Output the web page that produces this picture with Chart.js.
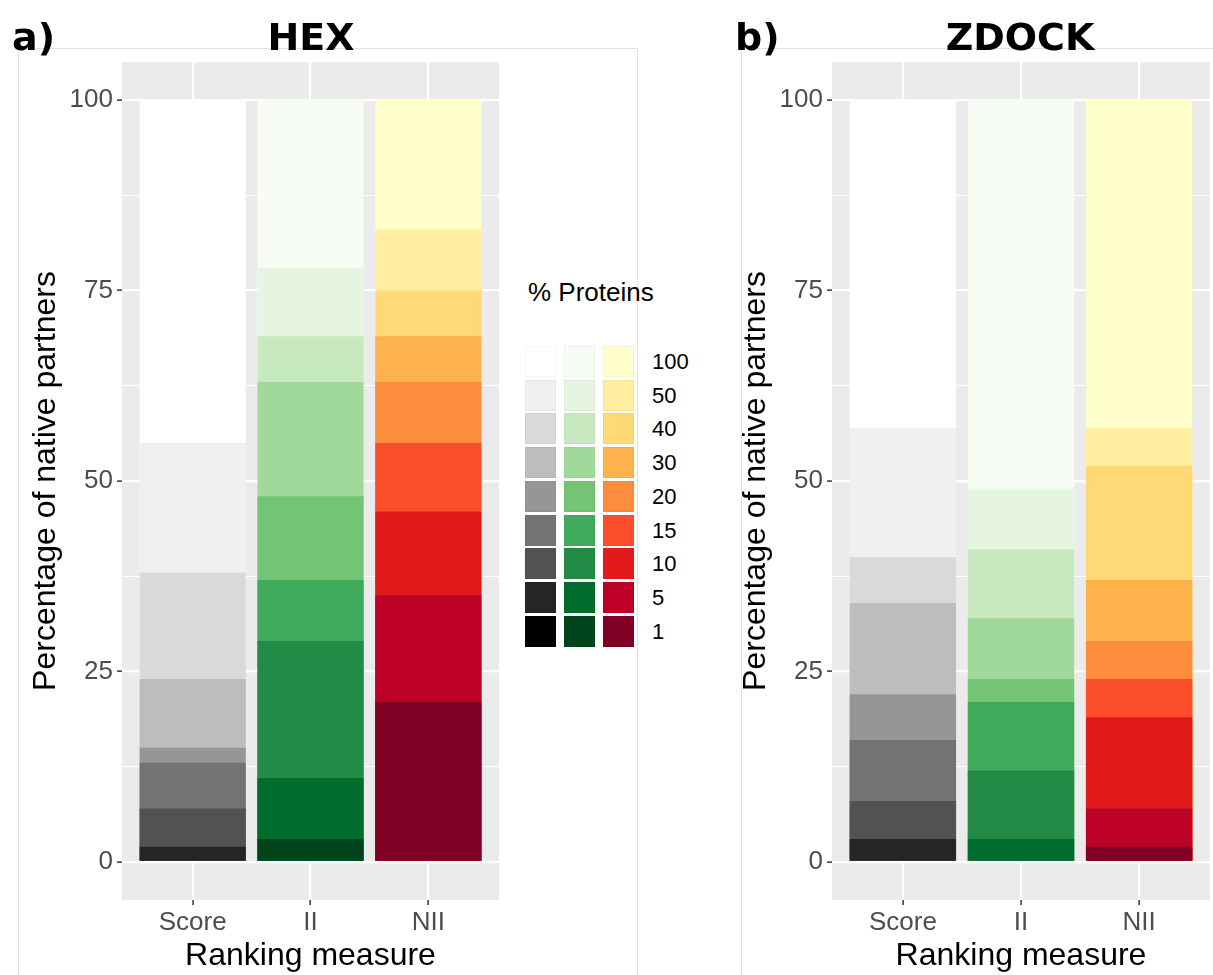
<!DOCTYPE html>
<html><head><meta charset="utf-8">
<script src="https://cdn.jsdelivr.net/npm/chart.js@4.4.1/dist/chart.umd.min.js"></script>
<style>
body{margin:0;background:#fff;width:1213px;height:975px;position:relative;overflow:hidden;font-family:"Liberation Sans",Arial,sans-serif;}
.box{position:absolute;border:0 solid #e2e2e2;}
canvas{position:absolute;top:0;}
.ttl{position:absolute;font-family:"DejaVu Sans",sans-serif;font-weight:bold;font-size:38px;line-height:38px;color:#000;white-space:nowrap;}
.lgt{position:absolute;font-size:26px;line-height:26px;color:#000;white-space:nowrap;}
.sw{position:absolute;width:31px;height:31px;box-shadow:inset 0 0 0 1px rgba(0,0,0,0.035);}
.lgl{position:absolute;font-size:22px;line-height:22px;color:#000;white-space:nowrap;}
</style></head><body>
<div class="box" style="left:18px;top:48px;width:618px;height:940px;border-left-width:1px;border-top-width:1px;border-right-width:1px"></div>
<div class="box" style="left:741px;top:48px;width:480px;height:940px;border-left-width:1px;border-top-width:1px"></div>
<canvas id="c1" width="520" height="975" style="left:0px"></canvas>
<canvas id="c2" width="503" height="975" style="left:710px"></canvas>
<div class="ttl" style="left:12px;top:18px">a)</div>
<div class="ttl" style="left:311px;top:18px;transform:translateX(-50%)">HEX</div>
<div class="ttl" style="left:735px;top:18px">b)</div>
<div class="ttl" style="left:1020px;top:18px;transform:translateX(-50%)">ZDOCK</div>
<div id="legend"></div>
<script>
// ---- data ----
const categories = ['Score', 'II', 'NII'];
const thresholds = ['1', '5', '10', '15', '20', '30', '40', '50', '100'];
// cumulative % of native partners found within top X% of proteins
const hexScore = [0, 2, 7, 13, 15, 24, 38, 55, 100];
const hexII = [3, 11, 29, 37, 48, 63, 69, 78, 100];
const hexNII = [21, 35, 46, 55, 63, 69, 75, 83, 100];
const zdockScore = [0, 3, 8, 16, 22, 34, 40, 57, 100];
const zdockII = [0, 3, 12, 21, 24, 32, 41, 49, 100];
const zdockNII = [2, 7, 19, 24, 29, 37, 52, 57, 100];
const yTickLabels = [0, 25, 50, 75, 100];
const yGridValues = [0, 12.5, 25, 37.5, 50, 62.5, 75, 87.5, 100];
const greys = ['#000000', '#252525', '#525252', '#737373', '#969696', '#bdbdbd', '#d9d9d9', '#f0f0f0', '#ffffff'];
const greens = ['#00441b', '#006d2c', '#238b45', '#41ab5d', '#74c476', '#a1d99b', '#c7e9c0', '#e5f5e0', '#f7fcf5'];
const ylorrd = ['#800026', '#bd0026', '#e31a1c', '#fc4e2a', '#fd8d3c', '#feb24c', '#fed976', '#ffeda0', '#ffffcc'];

Chart.defaults.font.family = '"Liberation Sans", Arial, sans-serif';

const panelBg = {
  id: 'panelBg',
  beforeDraw(chart) {
    const {ctx, chartArea: a} = chart;
    ctx.save();
    ctx.fillStyle = '#ebebeb';
    ctx.fillRect(a.left, a.top, a.right - a.left, a.bottom - a.top);
    ctx.restore();
  }
};

function makeChart(id, series, rightPad) {
  const datasets = thresholds.map((t, i) => ({
    label: t,
    data: series.map((s, j) => ({x: j + 1, y: s[i]})),
    backgroundColor: [greys[i], greens[i], ylorrd[i]],
    borderWidth: 0,
    grouped: false,
    barPercentage: 0.9,
    categoryPercentage: 1
  }));
  return new Chart(document.getElementById(id), {
    type: 'bar',
    data: {datasets},
    plugins: [panelBg],
    options: {
      responsive: false,
      animation: false,
      devicePixelRatio: 1,
      layout: {padding: {left: 0, right: rightPad, top: 62, bottom: 0}},
      plugins: {legend: {display: false}, tooltip: {enabled: false}},
      scales: {
        x: {
          type: 'linear', min: 0.4, max: 3.6, offset: false,
          afterBuildTicks: s => { s.ticks = categories.map((c, k) => ({value: k + 1})); },
          ticks: {callback: v => categories[v - 1], color: '#4d4d4d', font: {size: 26}, padding: 2, autoSkip: false, maxRotation: 0},
          grid: {offset: false, color: '#ffffff', lineWidth: 2.2, tickColor: '#333333', tickLength: 5, tickWidth: 1.5},
          border: {display: false},
          title: {display: true, text: 'Ranking measure', font: {size: 32}, color: '#000', padding: {top: 0, bottom: 0}},
          afterFit: s => { s.height = 75; }
        },
        y: {
          type: 'linear', min: -5, max: 105,
          afterBuildTicks: s => { s.ticks = yGridValues.map(v => ({value: v})); },
          ticks: {callback: v => yTickLabels.includes(v) ? String(v) : '', color: '#4d4d4d', font: {size: 26}, padding: 4, autoSkip: false},
          grid: {
            color: '#ffffff',
            lineWidth: c => (c.tick && yTickLabels.includes(c.tick.value)) ? 2.2 : 1.1,
            tickColor: c => (c.tick && yTickLabels.includes(c.tick.value)) ? '#333333' : 'rgba(0,0,0,0)',
            tickLength: 5, tickWidth: 1.5
          },
          border: {display: false},
          title: {display: true, text: 'Percentage of native partners', font: {size: 32}, color: '#000', padding: {top: 27, bottom: 0}},
          afterFit: s => { s.width = 122; }
        }
      }
    }
  });
}

makeChart('c1', [hexScore, hexII, hexNII], 21);
makeChart('c2', [zdockScore, zdockII, zdockNII], 3);

// ---- legend ----
const lg = document.getElementById('legend');
const t = document.createElement('div');
t.className = 'lgt'; t.style.left = '528px'; t.style.top = '279px'; t.textContent = '% Proteins';
lg.appendChild(t);
const palettes = [greys, greens, ylorrd];
const colX = [525, 564, 603];
for (let r = 0; r < thresholds.length; r++) {
  const i = thresholds.length - 1 - r;
  const top = 346 + r * 33.7;
  palettes.forEach((p, c) => {
    const d = document.createElement('div');
    d.className = 'sw';
    d.style.left = colX[c] + 'px'; d.style.top = top + 'px';
    d.style.background = p[i];
    lg.appendChild(d);
  });
  const l = document.createElement('div');
  l.className = 'lgl'; l.style.left = '652px'; l.style.top = (top + 5) + 'px';
  l.textContent = thresholds[i];
  lg.appendChild(l);
}
</script>
</body></html>
